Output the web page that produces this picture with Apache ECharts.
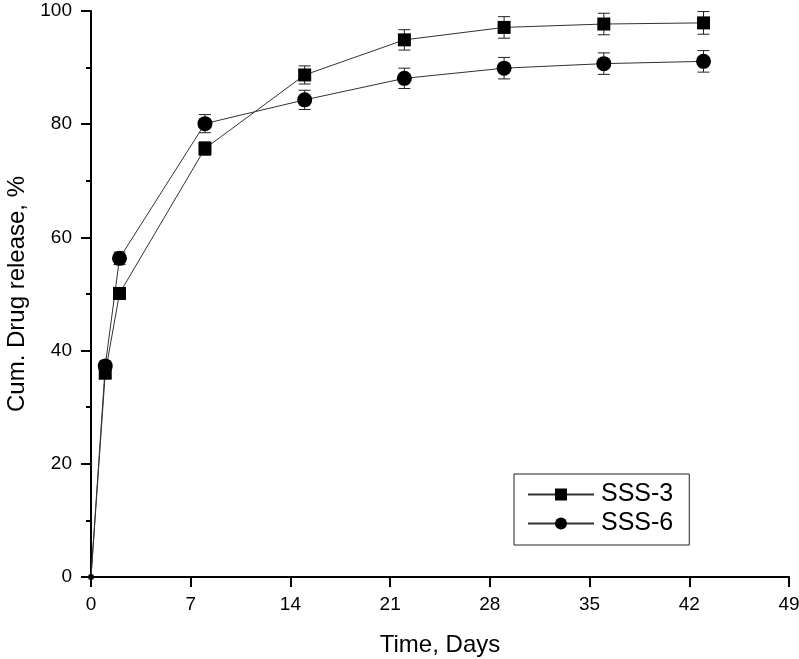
<!DOCTYPE html>
<html>
<head>
<meta charset="utf-8">
<script src="https://cdn.jsdelivr.net/npm/echarts@6/dist/echarts.min.js"></script>
<style>
  html, body { margin: 0; padding: 0; background: #fff; }
  #chart { width: 799px; height: 659px; }
</style>
</head>
<body>
<div id="chart"></div>
<script>
const days = [0, 1, 2, 8, 15, 22, 29, 36, 43]
const sss3 = [0, 36, 50.1, 75.7, 88.7, 94.9, 97.1, 97.7, 97.9]
const sss3Err = [0, 0.8, 1, 1.2, 1.6, 1.8, 1.9, 1.9, 2]
const sss6 = [0, 37.3, 56.3, 80.1, 84.3, 88.1, 89.9, 90.7, 91.1]
const sss6Err = [0, 0.8, 1.1, 1.6, 1.7, 1.8, 1.9, 1.9, 1.9]

const xTicks = [0, 7, 14, 21, 28, 35, 42, 49]
const yTicks = [0, 20, 40, 60, 80, 100]

const font = 'Liberation Sans, Arial, sans-serif'
const myChart = echarts.init(document.getElementById('chart'))

function pairs(ys) {
  return days.map((d, i) => [d, ys[i]])
}

function errData(ys, errs) {
  return days.map((d, i) => [d, ys[i] - errs[i], ys[i] + errs[i]])
}

function renderErr(params, api) {
  const lo = api.coord([api.value(0), api.value(1)])
  const hi = api.coord([api.value(0), api.value(2)])
  const w = 6
  const style = { stroke: '#222', lineWidth: 1 }
  if (hi[1] === lo[1]) return null
  return {
    type: 'group',
    children: [
      { type: 'line', shape: { x1: lo[0], y1: lo[1], x2: hi[0], y2: hi[1] }, style },
      { type: 'line', shape: { x1: lo[0] - w, y1: lo[1], x2: lo[0] + w, y2: lo[1] }, style },
      { type: 'line', shape: { x1: hi[0] - w, y1: hi[1], x2: hi[0] + w, y2: hi[1] }, style },
    ],
  }
}

// the origin point is mostly hidden behind the axes in the original
const sizeFor = big => (val => (val[0] === 0 ? 5 : big))

const option = {
  animation: false,
  backgroundColor: '#fff',
  grid: { left: 91, right: 10, top: 11, bottom: 82, outerBoundsMode: 'none' },
  legend: {
    orient: 'vertical',
    left: 514,
    top: 474,
    width: 176,
    padding: [8, 16, 9, 13],
    borderColor: '#222',
    borderWidth: 1,
    itemWidth: 66,
    itemHeight: 15,
    itemGap: 4,
    textStyle: { fontFamily: font, fontSize: 25, color: '#000', padding: [0, 0, 0, 2] },
    data: ['SSS-3', 'SSS-6'],
  },
  xAxis: {
    type: 'value',
    min: 0,
    max: 49,
    interval: 7,
    name: 'Time, Days',
    nameLocation: 'middle',
    nameGap: 56,
    nameTextStyle: { fontFamily: font, fontSize: 24, color: '#000' },
    axisLine: { lineStyle: { color: '#000', width: 2 } },
    axisTick: { show: true, length: 10, lineStyle: { color: '#000', width: 2 } },
    axisLabel: {
      fontFamily: font, fontSize: 19, color: '#000', margin: 18,
      formatter: v => (xTicks.includes(v) ? String(v) : ''),
    },
    splitLine: { show: false },
  },
  yAxis: {
    type: 'value',
    min: 0,
    max: 100,
    interval: 20,
    name: 'Cum. Drug release, %',
    nameLocation: 'middle',
    nameGap: 58,
    nameTextStyle: { fontFamily: font, fontSize: 24, color: '#000' },
    axisLine: { lineStyle: { color: '#000', width: 2 } },
    axisTick: { show: true, length: 10, lineStyle: { color: '#000', width: 2 } },
    minorTick: { show: true, splitNumber: 2, length: 5, lineStyle: { color: '#000', width: 2 } },
    axisLabel: {
      fontFamily: font, fontSize: 19, color: '#000', margin: 19,
      formatter: v => (yTicks.includes(v) ? String(v) : ''),
    },
    splitLine: { show: false },
  },
  series: [
    {
      name: 'SSS-3',
      type: 'line',
      data: pairs(sss3),
      symbol: 'rect',
      symbolSize: sizeFor(13),
      itemStyle: { color: '#000' },
      lineStyle: { color: '#333', width: 1 },
      z: 3,
    },
    {
      name: 'SSS-6',
      type: 'line',
      data: pairs(sss6),
      symbol: 'circle',
      symbolSize: sizeFor(15),
      itemStyle: { color: '#000' },
      lineStyle: { color: '#333', width: 1 },
      z: 3,
    },
    {
      type: 'custom',
      renderItem: renderErr,
      data: errData(sss3, sss3Err),
      encode: { x: 0, y: [1, 2] },
      silent: true,
      z: 2,
    },
    {
      type: 'custom',
      renderItem: renderErr,
      data: errData(sss6, sss6Err),
      encode: { x: 0, y: [1, 2] },
      silent: true,
      z: 2,
    },
  ],
}

myChart.setOption(option, true)
</script>
</body>
</html>
